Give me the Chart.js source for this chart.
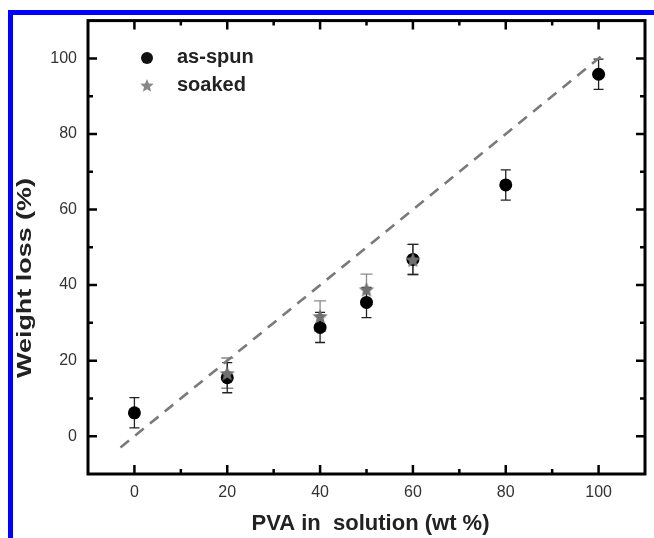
<!DOCTYPE html>
<html><head><meta charset="utf-8">
<script src="https://cdn.jsdelivr.net/npm/chart.js@4.4.0/dist/chart.umd.min.js"></script>
<style>html,body{margin:0;padding:0;background:#fff;overflow:hidden} canvas{display:block}</style>
</head><body>
<canvas id="c" width="654" height="538"></canvas>
<script>
// ---- data ----
const xTickLabels = [0, 20, 40, 60, 80, 100];
const yTickLabels = [0, 20, 40, 60, 80, 100];
const spunX = [0, 20, 40, 50, 60, 80, 100];
const spunY = [6.2, 15.5, 28.8, 35.4, 46.8, 66.5, 95.8];
const spunErr = [4, 4, 4, 4, 4, 4, 4];
const soakedX = [20, 40, 50, 60];
const soakedY = [16.7, 31.8, 38.9, 46.8];
const soakedErr = [4, 4, 4, 4];
const guideX = [-3, 101];
const guideY = [-3, 101];
const seriesNames = ['as-spun', 'soaked'];
const xTitle = 'PVA in  solution (wt %)';
const yTitle = 'Weight loss (%)';

const FONT = '"Liberation Sans", Arial, sans-serif';
const STAR_COLOR = '#707070';

function makeStar(r, color) {
  const s = Math.ceil(r * 2 + 2);
  const c = document.createElement('canvas');
  c.width = s; c.height = s;
  const g = c.getContext('2d');
  g.fillStyle = color;
  g.beginPath();
  for (let i = 0; i < 10; i++) {
    const rad = i % 2 === 0 ? r : r * 0.45;
    const a = -Math.PI / 2 + i * Math.PI / 5;
    const px = s / 2 + rad * Math.cos(a), py = s / 2 + 1 + rad * Math.sin(a);
    if (i === 0) g.moveTo(px, py); else g.lineTo(px, py);
  }
  g.closePath(); g.fill();
  return c;
}
const starImg = makeStar(8, STAR_COLOR);
const starLegend = makeStar(7, '#888');

const toPts = (xs, ys) => xs.map((x, i) => ({ x, y: ys[i] }));

const decor = {
  id: 'decor',
  beforeDraw(chart) {
    const ctx = chart.ctx;
    ctx.save();
    ctx.fillStyle = '#fff';
    ctx.fillRect(0, 0, chart.width, chart.height);
    ctx.fillStyle = '#0000ff';
    ctx.fillRect(8, 10, 5, chart.height - 10);
    ctx.fillRect(8, 10, chart.width - 8, 5);
    ctx.restore();
  },
  beforeDatasetsDraw(chart) {
    const ctx = chart.ctx, xs = chart.scales.x, ys = chart.scales.y;
    ctx.save();
    const bars = (X, Y, E, color, cap) => {
      ctx.strokeStyle = color; ctx.lineWidth = 1.3;
      X.forEach((x, i) => {
        const px = xs.getPixelForValue(x);
        const t = ys.getPixelForValue(Y[i] + E[i]);
        const b = ys.getPixelForValue(Y[i] - E[i]);
        ctx.beginPath();
        ctx.moveTo(px, t); ctx.lineTo(px, b);
        ctx.moveTo(px - cap, t); ctx.lineTo(px + cap, t);
        ctx.moveTo(px - cap, b); ctx.lineTo(px + cap, b);
        ctx.stroke();
      });
    };
    bars(soakedX, soakedY, soakedErr, '#8a8a8a', 6);
    bars(spunX, spunY, spunErr, '#222', 5);
    ctx.restore();
  },
  afterDraw(chart) {
    const ctx = chart.ctx, a = chart.chartArea, xs = chart.scales.x, ys = chart.scales.y;
    ctx.save();
    // frame
    ctx.strokeStyle = '#000'; ctx.lineWidth = 3;
    ctx.strokeRect(a.left, a.top, a.right - a.left, a.bottom - a.top);
    // inward ticks
    ctx.lineWidth = 2.5;
    ctx.beginPath();
    for (let v = -10; v <= 110; v += 10) {
      const len = v % 20 === 0 ? 9 : 5;
      const px = xs.getPixelForValue(v);
      if (px > a.left + 2 && px < a.right - 2) {
        ctx.moveTo(px, a.bottom); ctx.lineTo(px, a.bottom - len);
        ctx.moveTo(px, a.top); ctx.lineTo(px, a.top + len);
      }
      const py = ys.getPixelForValue(v);
      if (py > a.top + 2 && py < a.bottom - 2) {
        ctx.moveTo(a.left, py); ctx.lineTo(a.left + len, py);
        ctx.moveTo(a.right, py); ctx.lineTo(a.right - len, py);
      }
    }
    ctx.stroke();
    // legend
    ctx.fillStyle = '#111';
    ctx.beginPath(); ctx.arc(147, 58, 6, 0, Math.PI * 2); ctx.fill();
    ctx.drawImage(starLegend, 147 - starLegend.width / 2, 85 - starLegend.height / 2);
    ctx.fillStyle = '#222';
    ctx.font = 'bold 20px ' + FONT;
    ctx.textBaseline = 'middle'; ctx.textAlign = 'left';
    ctx.fillText(seriesNames[0], 177, 57);
    ctx.fillText(seriesNames[1], 177, 85);
    // axis titles
    ctx.font = 'bold 22px ' + FONT;
    ctx.textAlign = 'center';
    ctx.fillText(xTitle, (a.left + a.right) / 2 + 4, 524);
    ctx.font = 'bold 21px ' + FONT;
    const w = ctx.measureText(yTitle).width;
    ctx.translate(25, 278);
    ctx.rotate(-Math.PI / 2);
    ctx.scale(200 / w, 1);
    ctx.fillText(yTitle, 0, 0);
    ctx.restore();
  }
};

new Chart(document.getElementById('c'), {
  type: 'scatter',
  data: {
    datasets: [
      {
        type: 'line', label: 'guide', data: toPts(guideX, guideY),
        borderColor: '#7a7a7a', borderWidth: 2.6, borderDash: [11, 8],
        pointRadius: 0, fill: false, order: 3
      },
      {
        label: seriesNames[0], data: toPts(spunX, spunY),
        pointStyle: 'circle', pointRadius: 6.5, backgroundColor: '#000', borderColor: '#000',
        borderWidth: 0, order: 2
      },
      {
        label: seriesNames[1], data: toPts(soakedX, soakedY),
        pointStyle: starImg, pointRadius: 8, backgroundColor: STAR_COLOR, order: 1
      }
    ]
  },
  options: {
    responsive: false, animation: false, devicePixelRatio: 1,
    layout: { padding: { top: 20, right: 2, left: 0, bottom: 0 } },
    plugins: { legend: { display: false }, tooltip: { enabled: false } },
    scales: {
      x: {
        type: 'linear', min: -10, max: 110,
        grid: { display: false, drawTicks: false }, border: { display: false },
        afterBuildTicks: s => { s.ticks = xTickLabels.map(v => ({ value: v })); },
        afterFit: s => { s.height = 64; },
        ticks: { padding: 9, color: '#333', font: { family: FONT, size: 16 }, maxRotation: 0 }
      },
      y: {
        type: 'linear', min: -10, max: 110,
        grid: { display: false, drawTicks: false }, border: { display: false },
        afterBuildTicks: s => { s.ticks = yTickLabels.map(v => ({ value: v })); },
        afterFit: s => { s.width = 88; },
        ticks: { padding: 11, color: '#333', font: { family: FONT, size: 16 } }
      }
    }
  },
  plugins: [decor]
});
</script>
</body></html>
